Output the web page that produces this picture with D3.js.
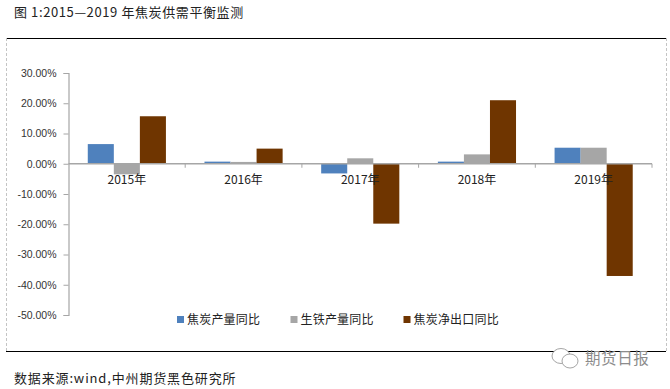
<!DOCTYPE html>
<html>
<head>
<meta charset="utf-8">
<script src="https://cdn.jsdelivr.net/npm/d3@7/dist/d3.min.js"></script>
<style>
    html, body { margin: 0; padding: 0; background: #fff; }
    text { font-family: "Noto Sans CJK SC", "Liberation Sans", sans-serif; }
    .num { font-family: "Liberation Sans", sans-serif; }
</style>
</head>
<body>
<div id="chart"></div>
<script>
// Chart data
var years = ["2015年", "2016年", "2017年", "2018年", "2019年"];
var seriesNames = ["焦炭产量同比", "生铁产量同比", "焦炭净出口同比"];
var cokeOutput = [6.5, 0.7, -3.2, 0.7, 5.3];
var ironOutput = [-3.5, 0.6, 1.8, 3.1, 5.3];
var cokeExport = [15.7, 5.0, -19.8, 21.0, -37.1];
var yTicks = [30, 20, 10, 0, -10, -20, -30, -40, -50];
var titleText = "图 1:2015—2019 年焦炭供需平衡监测";
var sourceText = "数据来源:wind,中州期货黑色研究所";
var markText = "期货日报";

var seriesValues = [cokeOutput, ironOutput, cokeExport];
var seriesColors = ["#4f81bd", "#a6a6a6", "#6f3500"];

// Board dims
var boardWidth = 670;
var boardHeight = 389;
var axisColor = "#a6a6a6";

var svg = d3.select("#chart").append("svg")
    .attr("width", boardWidth)
    .attr("height", boardHeight)
    .style("display", "block");

// Scales
var xScale = d3.scaleBand().domain(years).range([68.5, 652]);
var seriesScale = d3.scaleBand()
    .domain(d3.range(seriesNames.length))
    .range([0, xScale.step()])
    .paddingInner(0)
    .paddingOuter(0.74);
var yScale = d3.scaleLinear().domain([30, -50]).range([73, 315]);

// Frame round the chart
svg.append("line").attr("x1", 6).attr("x2", 666).attr("y1", 38.5).attr("y2", 38.5)
    .attr("stroke", "#000").attr("stroke-width", 1);
svg.append("line").attr("x1", 6).attr("x2", 666).attr("y1", 351.5).attr("y2", 351.5)
    .attr("stroke", "#000").attr("stroke-width", 1);
[6.5, 666.5].forEach(function (x) {
    svg.append("line").attr("x1", x).attr("x2", x).attr("y1", 38).attr("y2", 352)
        .attr("stroke", "#c4c4c4").attr("stroke-dasharray", "3,2");
});

// Title and source
svg.append("text").attr("x", 14).attr("y", 16.5)
    .attr("font-size", 13).attr("letter-spacing", 0.6).attr("fill", "#222")
    .text(titleText);
svg.append("text").attr("x", 14).attr("y", 382.5)
    .attr("font-size", 13).attr("letter-spacing", 0.85).attr("fill", "#222")
    .text(sourceText);

// Bars
var groups = svg.append("g").selectAll("g")
    .data(years)
    .enter().append("g")
    .attr("transform", function (d) { return "translate(" + xScale(d) + ",0)"; });

groups.selectAll("rect")
    .data(function (d, i) {
        return seriesValues.map(function (vals, s) { return { s: s, v: vals[i] }; });
    })
    .enter().append("rect")
    .attr("x", function (d) { return seriesScale(d.s); })
    .attr("width", seriesScale.bandwidth())
    .attr("y", function (d) { return Math.min(yScale(d.v), yScale(0)); })
    .attr("height", function (d) { return Math.abs(yScale(d.v) - yScale(0)); })
    .attr("fill", function (d) { return seriesColors[d.s]; });

// Y axis
var yAxis = d3.axisLeft(yScale)
    .tickValues(yTicks)
    .tickSize(5)
    .tickPadding(7)
    .tickFormat(function (d) { return d.toFixed(2) + "%"; });
var yG = svg.append("g").attr("transform", "translate(68.5,0)").call(yAxis);
yG.selectAll("path,line").attr("stroke", axisColor);
yG.select(".domain").attr("stroke-width", 1.2);
yG.selectAll("text")
    .attr("class", "num")
    .attr("font-size", 10.5)
    .attr("fill", "#333");

// X axis on the zero line, ticks fall between the categories
var xG = svg.append("g").attr("transform", "translate(0," + yScale(0) + ")");
xG.append("line")
    .attr("x1", xScale.range()[0]).attr("x2", xScale.range()[1])
    .attr("stroke", axisColor).attr("stroke-width", 1.4);
xG.selectAll(".tick-mark")
    .data(years)
    .enter().append("line")
    .attr("class", "tick-mark")
    .attr("x1", function (d) { return xScale(d) + xScale.step(); })
    .attr("x2", function (d) { return xScale(d) + xScale.step(); })
    .attr("y1", 0).attr("y2", 4)
    .attr("stroke", axisColor);
xG.selectAll(".cat-label")
    .data(years)
    .enter().append("text")
    .attr("class", "cat-label")
    .attr("x", function (d) { return xScale(d) + xScale.bandwidth() / 2; })
    .attr("y", 20.5)
    .attr("text-anchor", "middle")
    .attr("font-size", 12)
    .attr("fill", "#222")
    .text(function (d) { return d; });

// Legend
var legendX = [177, 290.5, 403.5];
var legend = svg.append("g").selectAll("g")
    .data(seriesNames)
    .enter().append("g")
    .attr("transform", function (d, i) { return "translate(" + legendX[i] + ",0)"; });
legend.append("rect")
    .attr("x", 0).attr("y", 316)
    .attr("width", 7).attr("height", 7)
    .attr("fill", function (d, i) { return seriesColors[i]; });
legend.append("text")
    .attr("x", 10).attr("y", 323.5)
    .attr("font-size", 12)
    .attr("letter-spacing", 0.2)
    .attr("fill", "#222")
    .text(function (d) { return d; });

// Watermark
var mark = svg.append("g").attr("fill", "#fff").attr("stroke", "#9a9a9a").attr("stroke-width", 0.9);
mark.append("ellipse").attr("cx", 561).attr("cy", 356).attr("rx", 9).attr("ry", 7.5);
mark.append("ellipse").attr("cx", 570).attr("cy", 361).attr("rx", 8).attr("ry", 7);
svg.append("text").attr("x", 585).attr("y", 363.5)
    .attr("font-size", 15.5).attr("letter-spacing", 0.6).attr("fill", "#8c8c8c")
    .text(markText);
</script>
</body>
</html>
